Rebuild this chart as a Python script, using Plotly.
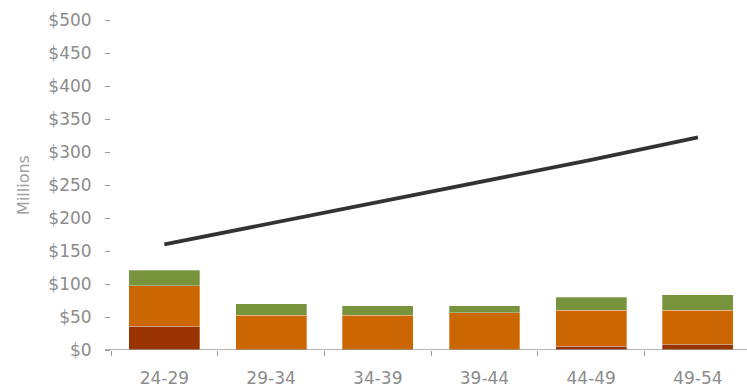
import plotly.graph_objects as go

categories = ["24-29", "29-34", "34-39", "39-44", "44-49", "49-54"]
dark_vals = [36, 0, 0, 0, 6, 9]
orange_vals = [61, 53, 53, 56.5, 54, 51]
green_vals = [24, 17, 14, 10.5, 20, 24]
line_vals = [160, 192, 224, 255, 288, 322]
tick_vals = [0, 50, 100, 150, 200, 250, 300, 350, 400, 450, 500]
tick_text = ["$0", "$50", "$100", "$150", "$200", "$250", "$300", "$350", "$400", "$450", "$500"]

W, H = 747, 390
ML, MR, MT, MB = 111, 0, 20, 40

fig = go.Figure()
for vals, col in [(dark_vals, "#993300"), (orange_vals, "#CC6600"), (green_vals, "#77933C")]:
    fig.add_trace(go.Bar(x=categories, y=vals, marker=dict(color=col, line=dict(color="rgba(255,255,255,0.5)", width=0.6)),
                         showlegend=False, hoverinfo="skip"))
fig.add_trace(go.Scatter(x=categories, y=line_vals, mode="lines", line=dict(color="#333333", width=3.8),
                         showlegend=False, hoverinfo="skip"))

fig.update_layout(
    width=W, height=H, barmode="stack", bargap=0.335,
    margin=dict(l=ML, r=MR, t=MT, b=MB),
    plot_bgcolor="white", paper_bgcolor="white",
    font=dict(family="DejaVu Sans", size=17, color="#8a8a8a"),
    xaxis=dict(type="category", range=[-0.5, 5.46], tickson="boundaries", ticks="outside",
               ticklen=5, tickcolor="#999999", showline=False, showgrid=False,
               tickfont=dict(size=17, color="#8c8c8c"), ticklabelstandoff=16),
    yaxis=dict(range=[0, 500], tickvals=tick_vals, ticktext=tick_text, ticks="outside",
               ticklen=5, tickcolor="#999999", showline=False, showgrid=False, zeroline=False,
               tickfont=dict(size=17, color="#8c8c8c"), ticklabelstandoff=10,
               title=dict(text="Millions", font=dict(size=16, color="#a0a0a0"), standoff=14)),
    shapes=[dict(type="line", xref="paper", yref="y", x0=-6 / (W - ML - MR), x1=1, y0=0, y1=0,
                 line=dict(color="#999999", width=1.5), layer="above")],
)

fig.write_html("out.html")
